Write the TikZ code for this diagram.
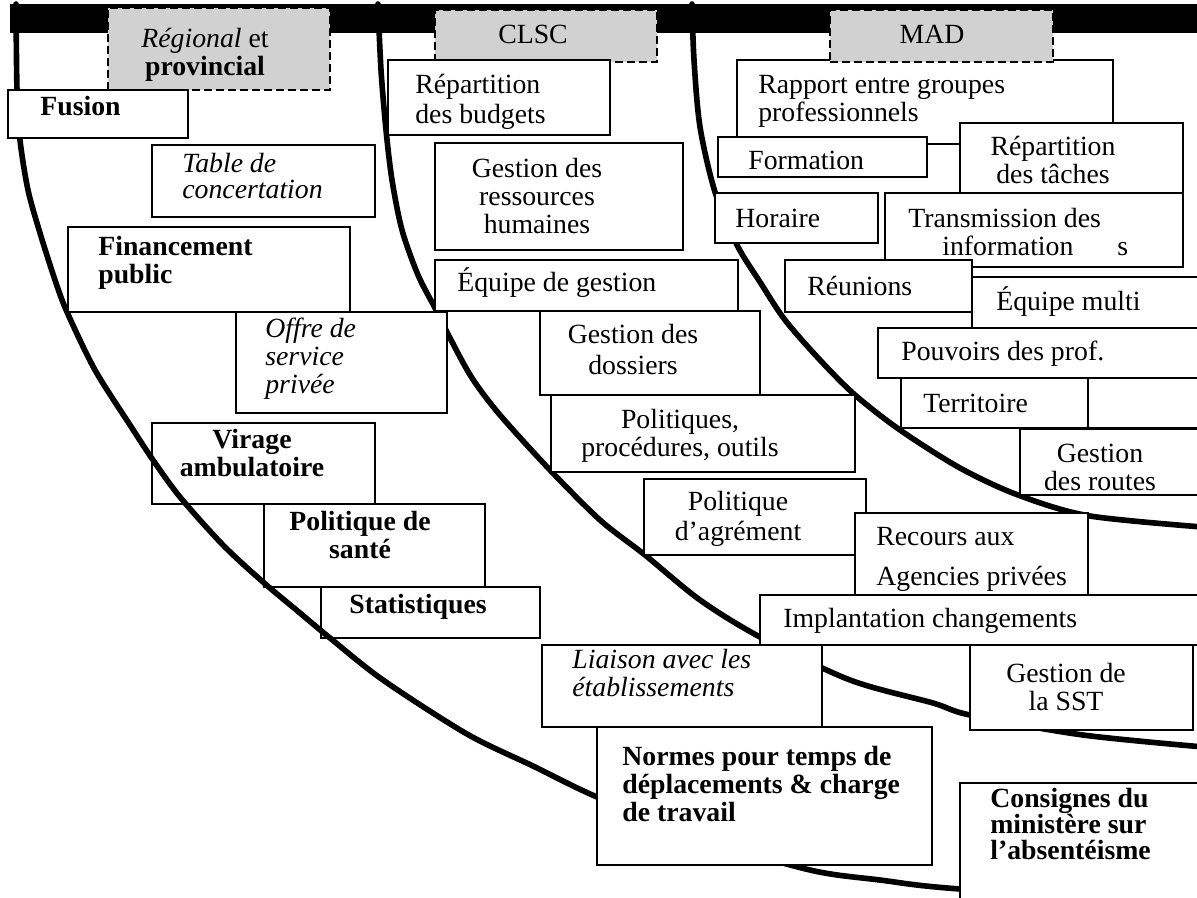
\documentclass[tikz,border=0pt]{standalone}
\usepackage{fontspec}
\setmainfont{Liberation Serif}

% cadres : nom, x1, y1, x2, y2, style du texte, position du texte (ligne du bas), texte
\newcommand{\boite}[9]{%
  \node[boite, minimum width={(#4-#2)*0.2mm}, minimum height={(#5-#3)*0.2mm}] (#1) at (#2,#3) {};
  \node[#6] (#1-t) at (#7,#8) {#9};}
\newcommand{\entete}[8]{%
  \node[entete, minimum width={(#4-#2)*0.2mm}, minimum height={(#5-#3)*0.2mm}] (#1) at (#2,#3) {};
  \node[centre] (#1-t) at (#6,#7) {#8};}

\tikzset{
  boite/.style={draw, fill=white, line width=1pt, inner sep=0pt, outer sep=0pt, anchor=north west},
  entete/.style={draw, fill=black!18, line width=1pt, dash pattern=on 1.6mm off 0.8mm,
    inner sep=0pt, outer sep=0pt, anchor=north west},
  gauche/.style={inner sep=0pt, anchor=base west, align=left, font=\fontsize{15.8}{15.9}\selectfont},
  centre/.style={inner sep=0pt, anchor=base, align=center, font=\fontsize{15.8}{15.9}\selectfont},
  gras/.style={font=\fontsize{15.8}{15.9}\selectfont\bfseries},
  ital/.style={font=\fontsize{15.8}{15.9}\selectfont\itshape},
  courbe/.style={line width=3.2pt, line cap=round},
}

\begin{document}
\begin{tikzpicture}[x=0.2mm, y=-0.2mm]
\useasboundingbox (0,0) rectangle (1197,897);
\clip (0,0) rectangle (1197,897);
\fill[white] (0,0) rectangle (1197,897);

% bandeau du haut
\fill[black] (10,4) rectangle (1197,33);
\entete{regional}{108}{8}{330}{90}{205}{75}{{\itshape Régional} et\\{\bfseries provincial}}
\entete{clsc}{435}{10}{657}{62}{533}{43}{CLSC}

% cadres traverses par la courbe
\boite{virage}{152}{423}{375}{504}{centre,gras}{252}{476}{Virage\\ambulatoire}
\boite{polsante}{264}{504}{485}{587}{centre,gras}{360}{558}{Politique de\\santé}
\boite{stats}{321}{587}{540}{638}{gauche,gras}{349}{613}{Statistiques}

% les trois courbes
\draw[courbe] plot[smooth] coordinates {(16,4) (17,90) (20,140) (28,190) (40,233) (55,280)
  (67,312) (95,370) (130,425) (153,460) (180,497) (223,545) (263,582) (300,613) (330,638)
  (383,680) (467,734) (533,766) (597,797) (700,838) (810,870) (880,880) (960,889) (1215,905)};
\draw[courbe] plot[smooth] coordinates {(378,4) (381,70) (386,130) (392,180) (402,230)
  (418,275) (435,308) (450,338) (472,378) (500,415) (550,470) (600,520) (645,555) (700,600)
  (760,637) (850,680) (933,703) (970,715) (1083,735) (1215,748)};
\draw[courbe] plot[smooth] coordinates {(692,4) (694,60) (700,127) (715,192) (737,245)
  (760,282) (785,320) (820,360) (855,395) (900,430) (960,468) (1018,495) (1090,516) (1215,528)};

% Regional et provincial
\boite{fusion}{8}{90}{188}{138}{gauche,gras}{40}{115}{Fusion}
\boite{table}{152}{145}{375}{217}{gauche,ital}{182}{198}{Table de\\[-0.4mm]concertation}
\boite{financement}{68}{227}{350}{312}{gauche,gras}{98}{283}{Financement\\public}
\boite{offre}{236}{312}{447}{413}{gauche,ital}{265}{393}{Offre de\\service\\privée}

% CLSC
\boite{repbudg}{388}{60}{610}{135}{gauche}{415}{123}{Répartition\\[0.4mm]des budgets}
\boite{grh}{435}{143}{683}{250}{centre}{537}{233}{Gestion des\\ressources\\humaines}
\boite{eqgest}{435}{260}{738}{311}{gauche}{457}{291}{Équipe de gestion}
\boite{dossiers}{540}{311}{760}{395}{centre}{633}{374}{Gestion des\\[0.6mm]dossiers}
\boite{politiques}{551}{395}{855}{472}{centre}{680}{456}{Politiques,\\procédures, outils}
\boite{agrement}{644}{479}{866}{555}{centre}{738}{540}{Politique\\[0.4mm]d'agrément}
\boite{recours}{855}{513}{1088}{595}{gauche}{876}{585}{Recours aux\\[2.4mm]Agencies privées}
\boite{implant}{760}{595}{1215}{645}{gauche}{783}{627}{Implantation changements}
\boite{liaison}{542}{645}{822}{727}{gauche,ital}{572}{696}{Liaison avec les\\établissements}
\boite{sst}{970}{645}{1193}{730}{centre}{1066}{710}{Gestion de\\la SST}
\boite{normes}{597}{727}{932}{865}{gauche,gras}{622}{821}{Normes pour temps de\\déplacements \& charge\\de travail}
\boite{consignes}{960}{783}{1215}{910}{gauche,gras}{990}{859}{Consignes du\\[-0.4mm]ministère sur\\[-0.4mm]l’absentéisme}

% MAD
\boite{rapport}{737}{60}{1113}{144}{gauche}{758}{121}{Rapport entre groupes\\professionnels}
\entete{mad}{830}{10}{1053}{62}{932}{43}{MAD}
\boite{formation}{718}{137}{927}{177}{gauche}{748}{169}{Formation}
\boite{reptaches}{960}{123}{1183}{193}{centre}{1053}{183}{Répartition\\des tâches}
\boite{horaire}{715}{193}{878}{243}{gauche}{735}{227}{Horaire}
\boite{transmission}{885}{193}{1183}{267}{gauche}{908}{255}{Transmission des\\\hspace*{6.8mm}information\hspace{8.8mm}s}
\boite{reunions}{785}{260}{972}{312}{gauche}{807}{295}{Réunions}
\boite{eqmulti}{972}{277}{1215}{328}{gauche}{996}{310}{Équipe multi}
\boite{pouvoirs}{878}{328}{1215}{378}{gauche}{901}{360}{Pouvoirs des prof.}
\boite{territoire}{901}{378}{1088}{428}{gauche}{923}{412}{Territoire}
\boite{vide}{1088}{378}{1215}{428}{gauche}{1100}{412}{}
\boite{routes}{1020}{429}{1215}{495}{centre}{1100}{490}{Gestion\\des routes}
\end{tikzpicture}
\end{document}
